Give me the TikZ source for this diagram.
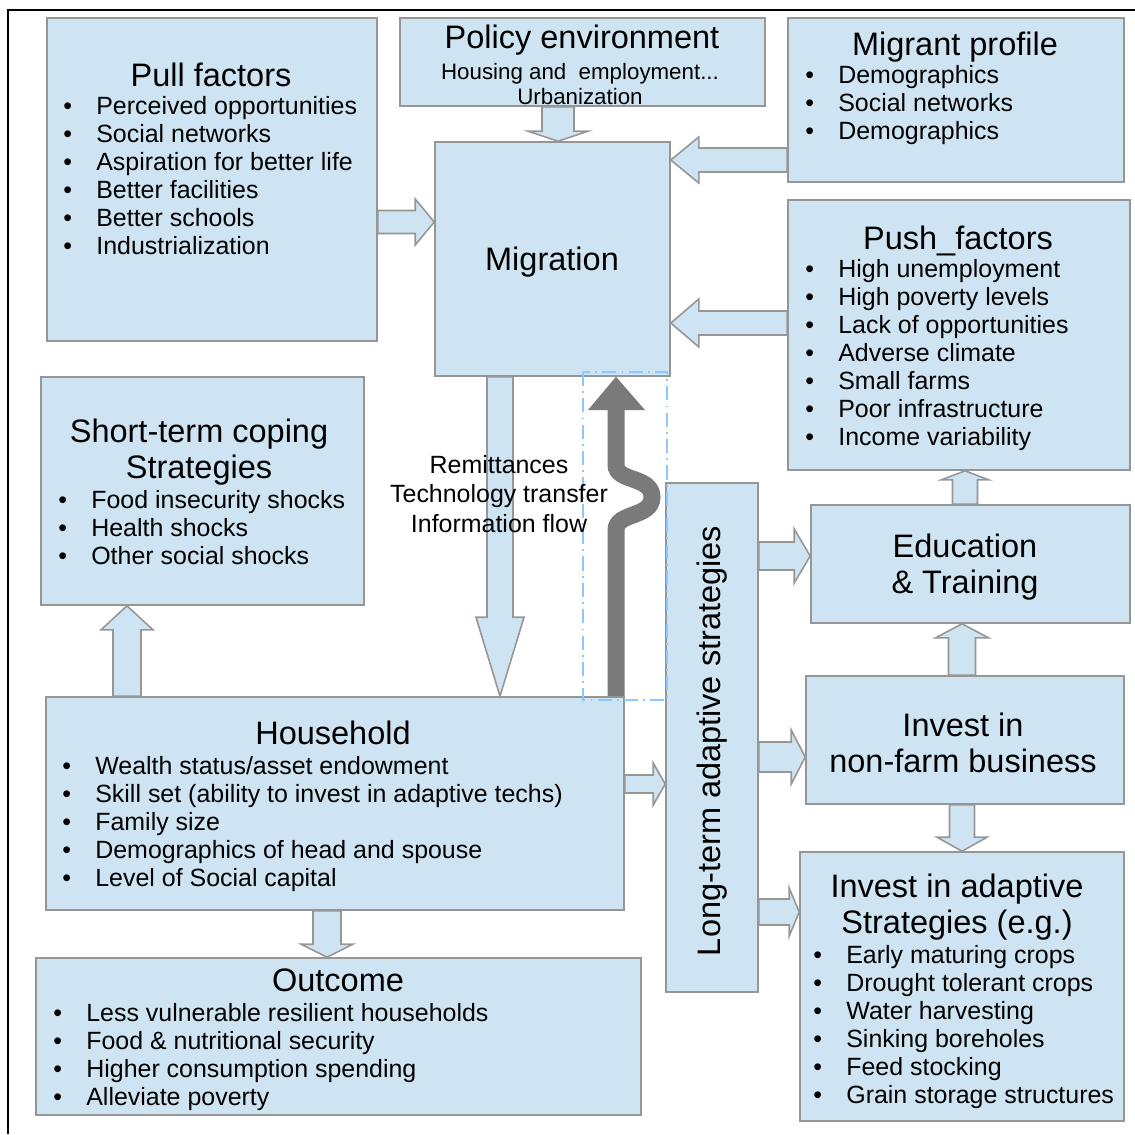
\documentclass[tikz,border=0pt]{standalone}
\usepackage{fontspec}
\setmainfont{Liberation Sans}
\usetikzlibrary{calc,fit}

\definecolor{boxblue}{RGB}{207,228,242}
\definecolor{boxline}{RGB}{150,150,150}
\definecolor{waveg}{RGB}{122,122,122}
\definecolor{dashblue}{RGB}{140,200,255}

\tikzset{
  box/.style={draw=boxline, fill=boxblue, line width=0.9pt, inner sep=0pt},
  blk/.style={draw=boxline, fill=boxblue, line width=0.9pt, line join=miter},
  ttl/.style={font=\fontsize{18.5}{20.5}\selectfont, align=center, inner sep=0pt, yshift=-1.7pt},
  sub/.style={font=\fontsize{12.7}{14.2}\selectfont, align=center, inner sep=0pt, yshift=-1.7pt},
  lst/.style={font=\fontsize{14.2}{15.9}\selectfont, anchor=west, inner sep=0pt, yshift=-1.7pt},
  flow/.style={font=\fontsize{14.2}{17}\selectfont, align=center, inner sep=0pt, yshift=-1.7pt},
}

% vertical block arrow: x centre, from, to, shaft half, head half, head length
\newcommand{\vblk}[6]{%
  \draw[blk] let \p1=(#2), \p2=(#3), \p3=(#1,0), \p4=(#4,0), \p5=(#5,0), \p6=(#6,0),
    \n1={sign(\y2-\y1)} in
    ({\x3-\x4},\y1) -- ({\x3-\x4},{\y2-(\n1)*\x6}) -- ({\x3-\x5},{\y2-(\n1)*\x6})
    -- (\x3,\y2) -- ({\x3+\x5},{\y2-(\n1)*\x6}) -- ({\x3+\x4},{\y2-(\n1)*\x6})
    -- ({\x3+\x4},\y1) -- cycle;}
% horizontal block arrow: y centre, from, to, shaft half, head half, head length
\newcommand{\hblk}[6]{%
  \draw[blk] let \p1=(#2), \p2=(#3), \p3=(0,#1), \p4=(#4,0), \p5=(#5,0), \p6=(#6,0),
    \n1={sign(\x2-\x1)} in
    (\x1,{\y3-\x4}) -- ({\x2-(\n1)*\x6},{\y3-\x4}) -- ({\x2-(\n1)*\x6},{\y3-\x5})
    -- (\x2,\y3) -- ({\x2-(\n1)*\x6},{\y3+\x5}) -- ({\x2-(\n1)*\x6},{\y3+\x4})
    -- (\x1,{\y3+\x4}) -- cycle;}

\begin{document}
\begin{tikzpicture}[x=0.02cm, y=-0.02cm]
\useasboundingbox (0,0) rectangle (1135,1134);

% frame
\draw[line width=1.1pt] (8,1134) -- (8,10) -- (1135,10);

% boxes
\node[box, fit={(47,18) (377,341)}] (pull) {};
\node[box, fit={(400,18) (765,106)}] (policy) {};
\node[box, fit={(788,18) (1124,182)}] (migrant) {};
\node[box, fit={(435,142) (670,376)}] (migration) {};
\node[box, fit={(788,200) (1130,470)}] (push) {};
\node[box, fit={(41,377) (364,605)}] (short) {};
\node[box, fit={(46,697) (624,910)}] (household) {};
\node[box, fit={(666,483) (758,992)}] (longterm) {};
\node[box, fit={(811,505) (1130,623)}] (edu) {};
\node[box, fit={(806,676) (1124,804)}] (nonfarm) {};
\node[box, fit={(800,852) (1124,1121)}] (invest) {};
\node[box, fit={(36,958) (641,1115)}] (outcome) {};

% dash-dot frame round the return flow
\draw[dashblue, line width=0.6pt, dash pattern=on 8pt off 3pt on 1pt off 3pt]
  (583,372) rectangle (667,700);

% block arrows
\vblk{558}{policy.south}{migration.north}{16}{30}{10}
\hblk{160}{migrant.west}{migration.east}{12}{23}{28}
\hblk{323}{push.west}{migration.east}{12}{24}{28}
\hblk{222}{pull.east}{migration.west}{11.5}{23}{19}
\vblk{500}{migration.south}{household.north}{13}{24}{79}
\vblk{127}{household.north}{short.south}{14}{26}{24}
\vblk{327}{household.south}{outcome.north}{14}{26}{13}
\hblk{784}{household.east}{longterm.west}{9}{21}{12}
\hblk{556}{longterm.east}{edu.west}{14}{27}{16}
\hblk{757}{longterm.east}{nonfarm.west}{15}{27}{14}
\hblk{912}{longterm.east}{invest.west}{13}{24}{10}
\vblk{965}{edu.north}{push.south}{12.5}{23.5}{9}
\vblk{962}{nonfarm.north}{edu.south}{13.5}{26.5}{14}
\vblk{962}{nonfarm.south}{invest.north}{12.5}{25}{14}

% grey return arrow, household up to migration
\draw[waveg, line width=0.34cm]
  (616,0 |- household.north) -- (616,530)
  .. controls (616,512) and (652,518) .. (652,497)
  .. controls (652,476) and (616,482) .. (616,465) -- (616,409);
\fill[waveg] (588,410) -- (645,410) -- (616,0 |- migration.south) -- cycle;

% Pull factors
\node[ttl] (pullT) at (211,72) {Pull factors};
\node[lst] (pullL) at (63,176) {\begin{tabular}{@{}p{0.66cm}@{}l@{}}
\textbullet & Perceived opportunities\\
\textbullet & Social networks\\
\textbullet & Aspiration for better life\\
\textbullet & Better facilities\\
\textbullet & Better schools\\
\textbullet & Industrialization
\end{tabular}};

% Policy environment
\node[ttl] (policyT) at (582,37) {Policy environment};
\node[sub] (policyS) at (580,81) {Housing and\ \ employment...\\Urbanization};

% Migrant profile
\node[ttl] (migrantT) at (955,44) {Migrant profile};
\node[lst] (migrantL) at (805,103) {\begin{tabular}{@{}p{0.66cm}@{}l@{}}
\textbullet & Demographics\\
\textbullet & Social networks\\
\textbullet & Demographics
\end{tabular}};

% Migration
\node[ttl] (migrationT) at (552,259) {Migration};

% Push factors
\node[ttl] (pushT) at (958,238) {Push\_factors};
\node[lst] (pushL) at (805,353) {\begin{tabular}{@{}p{0.66cm}@{}l@{}}
\textbullet & High unemployment\\
\textbullet & High poverty levels\\
\textbullet & Lack of opportunities\\
\textbullet & Adverse climate\\
\textbullet & Small farms\\
\textbullet & Poor infrastructure\\
\textbullet & Income variability
\end{tabular}};

% Short-term coping
\node[ttl] (shortT) at (199,449) {Short-term coping\\Strategies};
\node[lst] (shortL) at (58,528) {\begin{tabular}{@{}p{0.66cm}@{}l@{}}
\textbullet & Food insecurity shocks\\
\textbullet & Health shocks\\
\textbullet & Other social shocks
\end{tabular}};

% flows back from migration
\node[flow] (flowT) at (499,491) {Remittances\\Technology transfer\\Information flow};

% Household
\node[ttl] (householdT) at (333,730) {Household};
\node[lst] (householdL) at (62,822) {\begin{tabular}{@{}p{0.66cm}@{}l@{}}
\textbullet & Wealth status/asset endowment\\
\textbullet & Skill set (ability to invest in adaptive techs)\\
\textbullet & Family size\\
\textbullet & Demographics of head and spouse\\
\textbullet & Level of Social capital
\end{tabular}};

% Outcome
\node[ttl] (outcomeT) at (338,977) {Outcome};
\node[lst] (outcomeL) at (53,1055) {\begin{tabular}{@{}p{0.66cm}@{}l@{}}
\textbullet & Less vulnerable resilient households\\
\textbullet & Food \& nutritional security\\
\textbullet & Higher consumption spending\\
\textbullet & Alleviate poverty
\end{tabular}};

% Long-term
\node[ttl, rotate=90] (longT) at (712,738) {Long-term adaptive strategies};

% right column
\node[ttl] (eduT) at (965,564) {Education\\\& Training};
\node[ttl] (nonfarmT) at (963,740) {Invest in\\non-farm business};
\node[ttl] (investT) at (957,904) {Invest in adaptive\\Strategies (e.g.)};
\node[lst] (investL) at (813,1025) {\begin{tabular}{@{}p{0.66cm}@{}l@{}}
\textbullet & Early maturing crops\\
\textbullet & Drought tolerant crops\\
\textbullet & Water harvesting\\
\textbullet & Sinking boreholes\\
\textbullet & Feed stocking\\
\textbullet & Grain storage structures
\end{tabular}};
\end{tikzpicture}
\end{document}
